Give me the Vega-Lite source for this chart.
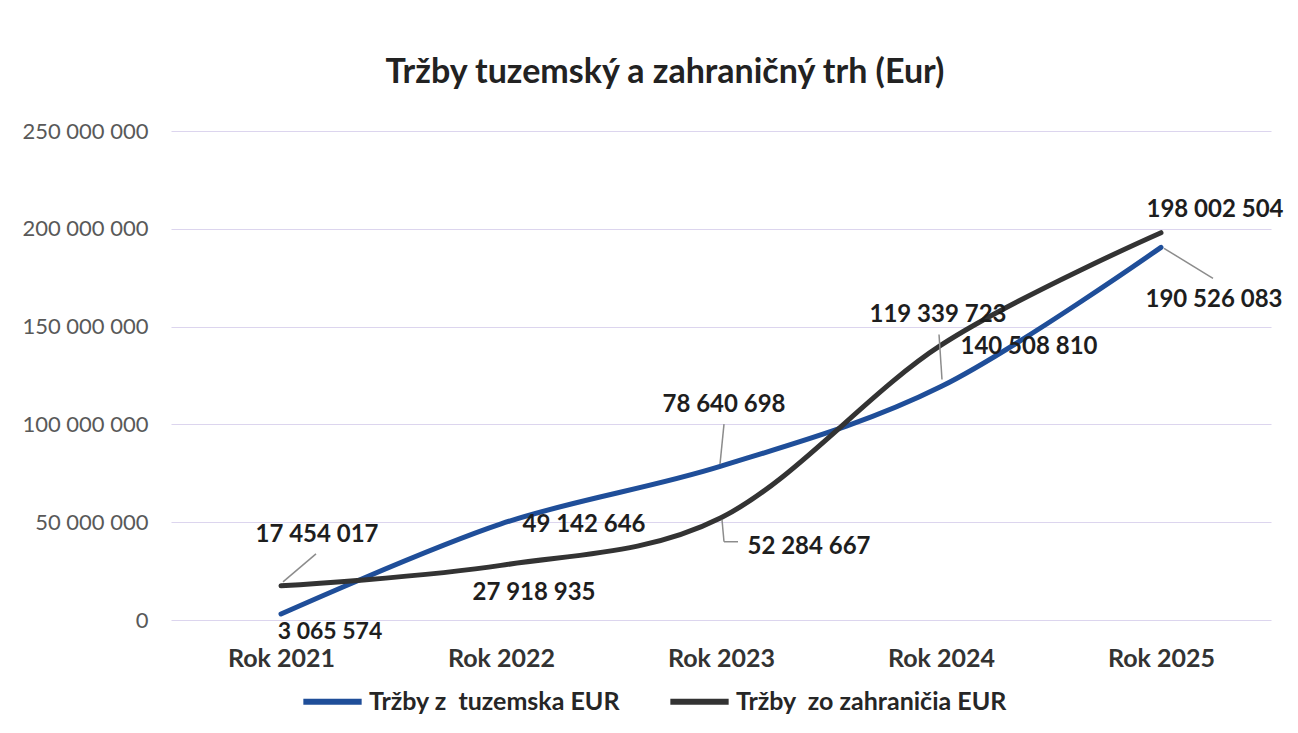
{
  "$schema": "https://vega.github.io/schema/vega-lite/v6.json",
  "width": 1100,
  "height": 489,
  "autosize": {"type": "none"},
  "padding": {"left": 171, "top": 131, "right": 27, "bottom": 113},
  "background": "white",
  "config": {
    "font": "Lato",
    "view": {"stroke": null},
    "locale": {"number": {"decimal": ",", "thousands": " ", "grouping": [3], "currency": ["", " €"]}}
  },
  "title": {
    "text": "Tržby tuzemský a zahraničný trh (Eur)",
    "font": "Lato",
    "fontSize": 34,
    "fontWeight": "bold",
    "color": "#222222",
    "anchor": "middle",
    "dx": -56,
    "offset": 30
  },
  "data": {
    "values": [
      {"rok": "Rok 2021", "trh": "tuzemsko", "serie": "Tržby z\u00a0 tuzemska EUR", "hodnota": 3065574},
      {"rok": "Rok 2022", "trh": "tuzemsko", "serie": "Tržby z\u00a0 tuzemska EUR", "hodnota": 49142646},
      {"rok": "Rok 2023", "trh": "tuzemsko", "serie": "Tržby z\u00a0 tuzemska EUR", "hodnota": 78640698},
      {"rok": "Rok 2024", "trh": "tuzemsko", "serie": "Tržby z\u00a0 tuzemska EUR", "hodnota": 119339723},
      {"rok": "Rok 2025", "trh": "tuzemsko", "serie": "Tržby z\u00a0 tuzemska EUR", "hodnota": 190526083},
      {"rok": "Rok 2021", "trh": "zahranicie", "serie": "Tržby \u00a0zo zahraničia EUR", "hodnota": 17454017},
      {"rok": "Rok 2022", "trh": "zahranicie", "serie": "Tržby \u00a0zo zahraničia EUR", "hodnota": 27918935},
      {"rok": "Rok 2023", "trh": "zahranicie", "serie": "Tržby \u00a0zo zahraničia EUR", "hodnota": 52284667},
      {"rok": "Rok 2024", "trh": "zahranicie", "serie": "Tržby \u00a0zo zahraničia EUR", "hodnota": 140508810},
      {"rok": "Rok 2025", "trh": "zahranicie", "serie": "Tržby \u00a0zo zahraničia EUR", "hodnota": 198002504}
    ]
  },
  "encoding": {
    "x": {
      "field": "rok", "type": "ordinal",
      "scale": {"type": "point", "padding": 0.5},
      "axis": {"title": null, "labelAngle": 0, "domain": false, "ticks": false, "grid": false,
               "labelFont": "Lato", "labelFontSize": 25, "labelFontWeight": "bold", "labelColor": "#333333",
               "labelPadding": 26, "labelBaseline": "top"}
    },
    "y": {
      "field": "hodnota", "type": "quantitative",
      "scale": {"domain": [0, 250000000], "nice": false},
      "axis": {"title": null, "values": [0, 50000000, 100000000, 150000000, 200000000, 250000000],
               "format": ",.0f", "domain": false, "ticks": false, "grid": true,
               "gridColor": "#dcd5ee", "gridWidth": 1.2,
               "labelFont": "Lato", "labelFontSize": 22, "labelColor": "#595959", "labelPadding": 23}
    }
  },
  "layer": [
    {
      "mark": {"type": "line", "interpolate": "cardinal", "strokeWidth": 5, "strokeCap": "round"},
      "encoding": {
        "color": {
          "field": "serie", "type": "nominal",
          "scale": {"domain": ["Tržby z\u00a0 tuzemska EUR", "Tržby \u00a0zo zahraničia EUR"], "range": ["#1f4e99", "#333333"]},
          "legend": {"title": null, "orient": "none", "legendX": 129, "legendY": 538, "direction": "horizontal",
                     "symbolType": "stroke", "symbolSize": 3400, "symbolStrokeWidth": 6,
                     "labelFont": "Lato", "labelFontSize": 25, "labelFontWeight": "bold", "labelColor": "#262626",
                     "labelLimit": 500, "labelOffset": 4, "columnPadding": 37, "padding": 0}
        }
      }
    },
    {
      "transform": [{"filter": "datum.trh === 'zahranicie' && datum.rok === 'Rok 2021'"}],
      "mark": {"type": "rule", "color": "#8c8c8c", "strokeWidth": 1.5, "xOffset": 2, "yOffset": -4, "x2Offset": 35, "y2Offset": -32},
      "encoding": {"x2": {"field": "rok"}, "y2": {"field": "hodnota"}}
    },
    {
      "transform": [{"filter": "datum.trh === 'zahranicie' && datum.rok === 'Rok 2023'"}],
      "mark": {"type": "rule", "color": "#8c8c8c", "strokeWidth": 1.5, "xOffset": 1, "yOffset": 2, "x2Offset": 3, "y2Offset": 24},
      "encoding": {"x2": {"field": "rok"}, "y2": {"field": "hodnota"}}
    },
    {
      "transform": [{"filter": "datum.trh === 'zahranicie' && datum.rok === 'Rok 2023'"}],
      "mark": {"type": "rule", "color": "#8c8c8c", "strokeWidth": 1.5, "xOffset": 3, "yOffset": 24, "x2Offset": 17, "y2Offset": 24},
      "encoding": {"x2": {"field": "rok"}, "y2": {"field": "hodnota"}}
    },
    {
      "transform": [{"filter": "datum.trh === 'tuzemsko' && datum.rok === 'Rok 2023'"}],
      "mark": {"type": "rule", "color": "#8c8c8c", "strokeWidth": 1.5, "xOffset": -1, "yOffset": -2, "x2Offset": 3, "y2Offset": -42},
      "encoding": {"x2": {"field": "rok"}, "y2": {"field": "hodnota"}}
    },
    {
      "transform": [{"filter": "datum.trh === 'tuzemsko' && datum.rok === 'Rok 2024'"}],
      "mark": {"type": "rule", "color": "#8c8c8c", "strokeWidth": 1.5, "xOffset": 1, "yOffset": -7, "x2Offset": -2, "y2Offset": -52},
      "encoding": {"x2": {"field": "rok"}, "y2": {"field": "hodnota"}}
    },
    {
      "transform": [{"filter": "datum.trh === 'tuzemsko' && datum.rok === 'Rok 2025'"}],
      "mark": {"type": "rule", "color": "#8c8c8c", "strokeWidth": 1.5, "xOffset": 3, "yOffset": 1, "x2Offset": 52, "y2Offset": 31},
      "encoding": {"x2": {"field": "rok"}, "y2": {"field": "hodnota"}}
    },
    {
      "transform": [{"filter": "datum.trh === 'zahranicie' && datum.rok === 'Rok 2021'"}],
      "mark": {"type": "text", "font": "Lato", "fontSize": 24, "fontWeight": "bold", "color": "#1e1e1e", "baseline": "middle", "dx": 36, "dy": -51},
      "encoding": {"text": {"field": "hodnota", "type": "quantitative", "format": ","}}
    },
    {
      "transform": [{"filter": "datum.trh === 'tuzemsko' && datum.rok === 'Rok 2021'"}],
      "mark": {"type": "text", "font": "Lato", "fontSize": 23, "fontWeight": "bold", "color": "#1e1e1e", "baseline": "middle", "dx": 49, "dy": 18},
      "encoding": {"text": {"field": "hodnota", "type": "quantitative", "format": ","}}
    },
    {
      "transform": [{"filter": "datum.trh === 'tuzemsko' && datum.rok === 'Rok 2022'"}],
      "mark": {"type": "text", "font": "Lato", "fontSize": 24, "fontWeight": "bold", "color": "#1e1e1e", "baseline": "middle", "dx": 83, "dy": 1},
      "encoding": {"text": {"field": "hodnota", "type": "quantitative", "format": ","}}
    },
    {
      "transform": [{"filter": "datum.trh === 'zahranicie' && datum.rok === 'Rok 2022'"}],
      "mark": {"type": "text", "font": "Lato", "fontSize": 24, "fontWeight": "bold", "color": "#1e1e1e", "baseline": "middle", "dx": 33, "dy": 28},
      "encoding": {"text": {"field": "hodnota", "type": "quantitative", "format": ","}}
    },
    {
      "transform": [{"filter": "datum.trh === 'tuzemsko' && datum.rok === 'Rok 2023'"}],
      "mark": {"type": "text", "font": "Lato", "fontSize": 24, "fontWeight": "bold", "color": "#1e1e1e", "baseline": "middle", "dx": 3, "dy": -61},
      "encoding": {"text": {"field": "hodnota", "type": "quantitative", "format": ","}}
    },
    {
      "transform": [{"filter": "datum.trh === 'zahranicie' && datum.rok === 'Rok 2023'"}],
      "mark": {"type": "text", "font": "Lato", "fontSize": 24, "fontWeight": "bold", "color": "#1e1e1e", "baseline": "middle", "dx": 88, "dy": 29},
      "encoding": {"text": {"field": "hodnota", "type": "quantitative", "format": ","}}
    },
    {
      "transform": [{"filter": "datum.trh === 'tuzemsko' && datum.rok === 'Rok 2024'"}],
      "mark": {"type": "text", "font": "Lato", "fontSize": 24, "fontWeight": "bold", "color": "#1e1e1e", "baseline": "middle", "dx": -3, "dy": -72},
      "encoding": {"text": {"field": "hodnota", "type": "quantitative", "format": ","}}
    },
    {
      "transform": [{"filter": "datum.trh === 'zahranicie' && datum.rok === 'Rok 2024'"}],
      "mark": {"type": "text", "font": "Lato", "fontSize": 24, "fontWeight": "bold", "color": "#1e1e1e", "baseline": "middle", "dx": 88, "dy": 2},
      "encoding": {"text": {"field": "hodnota", "type": "quantitative", "format": ","}}
    },
    {
      "transform": [{"filter": "datum.trh === 'zahranicie' && datum.rok === 'Rok 2025'"}],
      "mark": {"type": "text", "font": "Lato", "fontSize": 24, "fontWeight": "bold", "color": "#1e1e1e", "baseline": "middle", "dx": 54, "dy": -23},
      "encoding": {"text": {"field": "hodnota", "type": "quantitative", "format": ","}}
    },
    {
      "transform": [{"filter": "datum.trh === 'tuzemsko' && datum.rok === 'Rok 2025'"}],
      "mark": {"type": "text", "font": "Lato", "fontSize": 24, "fontWeight": "bold", "color": "#1e1e1e", "baseline": "middle", "dx": 53, "dy": 53},
      "encoding": {"text": {"field": "hodnota", "type": "quantitative", "format": ","}}
    }
  ]
}
